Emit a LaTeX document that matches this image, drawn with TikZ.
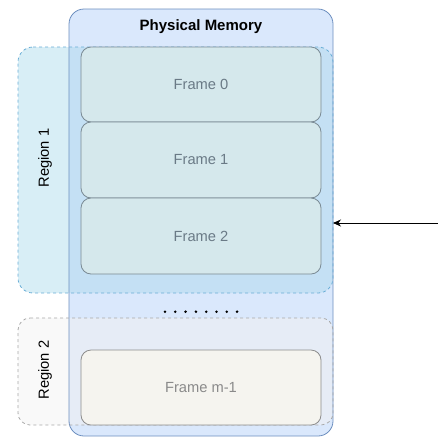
\documentclass[tikz,border=0pt]{standalone}
\usepackage{fontspec}
\setmainfont{Liberation Sans}
\usetikzlibrary{arrows.meta}
\definecolor{memfill}{HTML}{DAE8FC}
\definecolor{memline}{HTML}{6C8EBF}
\definecolor{regAfill}{HTML}{D8EEF6}
\definecolor{regAover}{HTML}{C4E0F4}
\definecolor{regAline}{HTML}{6AAED6}
\definecolor{frfill}{HTML}{D5E8EC}
\definecolor{frline}{HTML}{7A8A94}
\definecolor{frtext}{HTML}{6A7A86}
\definecolor{regBfill}{HTML}{F9F9F9}
\definecolor{regBover}{HTML}{E6ECF6}
\definecolor{regBline}{HTML}{A8A8A8}
\definecolor{fmfill}{HTML}{F5F4EF}
\definecolor{fmline}{HTML}{8C8C8C}
\definecolor{fmtext}{HTML}{8A8A8A}
\tikzset{
  frbox/.style={draw=frline, fill=frfill, line width=0.8pt, text=frtext, font=\fontsize{14.7}{17}\selectfont},
  frlast/.style={draw=fmline, fill=fmfill, line width=0.8pt, text=fmtext, font=\fontsize{14.7}{17}\selectfont},
  reglabel/.style={font=\fontsize{14.7}{17}\selectfont},
}
% rounded box path: #1 left x, #2 top y, #3 right x, #4 bottom y, #5 radius
\newcommand{\rbox}[5]{(#1+#5,#2) -- (#3-#5,#2) arc[start angle=90,end angle=0,radius=#5] -- (#3,#4+#5) arc[start angle=0,end angle=-90,radius=#5] -- (#1+#5,#4) arc[start angle=270,end angle=180,radius=#5] -- (#1,#2-#5) arc[start angle=180,end angle=90,radius=#5] -- cycle}
\begin{document}
\begin{tikzpicture}[x=1pt,y=1pt]
\useasboundingbox (0,0) rectangle (438,-437);
% region fills (outside part)
\fill[regAfill] \rbox{18}{-47}{333}{-293}{15};
\fill[regBfill] \rbox{18}{-318}{333}{-425}{12};
% memory fill
\fill[memfill] \rbox{69}{-9}{333}{-436}{15};
% overlap fills
\fill[regAover] (69,-47) -- (318,-47) arc[start angle=90,end angle=0,radius=15] -- (333,-278) arc[start angle=0,end angle=-90,radius=15] -- (69,-293) -- cycle;
\fill[regBover] (69,-318) -- (321,-318) arc[start angle=90,end angle=0,radius=12] -- (333,-413) arc[start angle=0,end angle=-90,radius=12] -- (69,-425) -- cycle;
% memory border
\draw[line width=0.8pt, draw=memline] \rbox{69}{-9}{333}{-436}{15};
% region borders
\draw[line width=0.8pt, draw=regAline, dash pattern=on 3pt off 3pt] \rbox{18}{-47}{333}{-293}{15};
\draw[line width=0.8pt, draw=regBline, dash pattern=on 3pt off 3pt] \rbox{18}{-318}{333}{-425}{12};
% frames
\draw[frbox] \rbox{81}{-47}{321}{-122}{10};
\draw[frbox] \rbox{81}{-122}{321}{-198}{10};
\draw[frbox] \rbox{81}{-198}{321}{-274}{10};
\draw[frlast] \rbox{81}{-350}{321}{-425}{10};
\node[text=frtext, font=\fontsize{14.7}{17}\selectfont] (f0) at (201,-84.5) {Frame 0};
\node[text=frtext, font=\fontsize{14.7}{17}\selectfont] (f1) at (201,-160) {Frame 1};
\node[text=frtext, font=\fontsize{14.7}{17}\selectfont] (f2) at (201,-236) {Frame 2};
\node[text=fmtext, font=\fontsize{14.7}{17}\selectfont] (fm) at (201,-387.5) {Frame m-1};
% dots
\foreach \i in {0,...,7} { \fill (165+\i*10.3,-311.7) circle (1.4pt); }
% arrow
\coordinate (src) at (438,-223);
\coordinate (dst) at (333,-223);
\draw[-{Stealth[length=8pt,width=7pt]}, line width=0.8pt] (src) -- (dst);
% title and labels
\node[font=\bfseries\fontsize{15}{18}\selectfont] (title) at (201,-27) {Physical Memory};
\node[reglabel, rotate=90] (r1) at (45,-158) {Region 1};
\node[reglabel, rotate=90] (r2) at (45,-370) {Region 2};
\end{tikzpicture}
\end{document}
